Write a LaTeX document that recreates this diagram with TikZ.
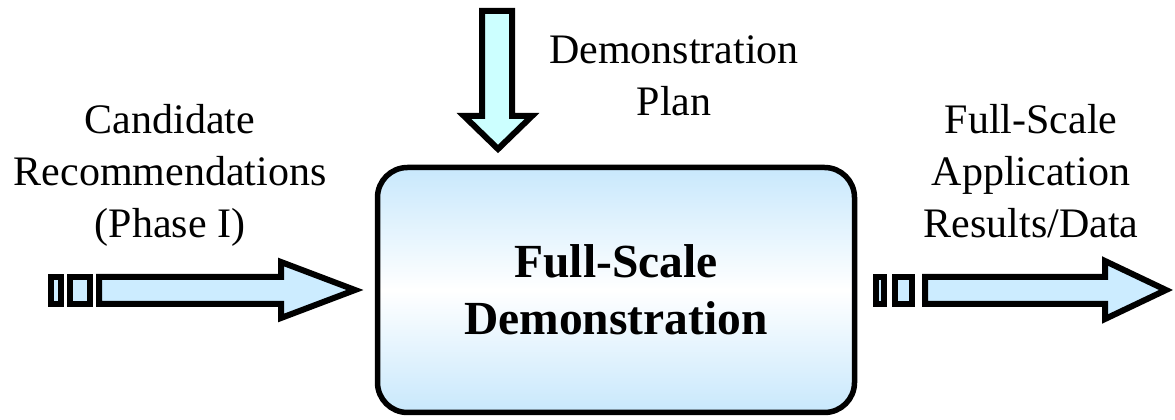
\documentclass[tikz,border=0pt]{standalone}
\usepackage{fontspec}
\setmainfont{Liberation Serif}
\usepackage{tikz}
\definecolor{arrowblue}{RGB}{204,236,255}
\definecolor{arrowcyan}{RGB}{204,255,255}
\definecolor{boxblue}{RGB}{200,232,252}

\begin{document}
\begin{tikzpicture}[line join=miter,x=1pt,y=1pt,
  blockarrow/.style={draw,line width=6pt,fill=arrowblue},
  caption/.style={align=center,font=\fontsize{42}{52}\selectfont},
  demobox/.style={draw,line width=5.5pt,rounded corners=30pt,
    top color=boxblue,bottom color=boxblue,middle color=white,
    minimum width=477pt,minimum height=245pt,align=center,
    font=\fontsize{47.5}{57}\selectfont\bfseries}]
\useasboundingbox (0,0) rectangle (1175,420);
% centre block
\node [demobox] (demo) at (616,130) {Full-Scale\\Demonstration};
% labels
\node [caption] (cand) at (170,245) {Candidate\\Recommendations\\(Phase I)};
\node [caption] (plan) at (674,344) {Demonstration\\Plan};
\node [caption] (result) at (1031,249) {Full-Scale\\Application\\Results/Data};
% input arrow, left
\draw [blockarrow] (51,116) rectangle (61,143);
\draw [blockarrow] (70,116) rectangle (90,143);
\draw [blockarrow] (99,116)--(281,116)--(281,102)--(355,130)--(281,158)--(281,143)--(99,143)--cycle;
% plan arrow, top
\draw [blockarrow,fill=arrowcyan] (482,409)--(512,409)--(512,304)--(532,304)--(498,271)--(464,304)--(482,304)--cycle;
% output arrow, right
\begin{scope}[shift={(825,0)}]
\draw [blockarrow] (51,116) rectangle (59,143);
\draw [blockarrow] (70,116) rectangle (87,143);
\draw [blockarrow] (100,116)--(280,116)--(280,101)--(341,130)--(280,159)--(280,143)--(100,143)--cycle;
\end{scope}
\end{tikzpicture}
\end{document}
